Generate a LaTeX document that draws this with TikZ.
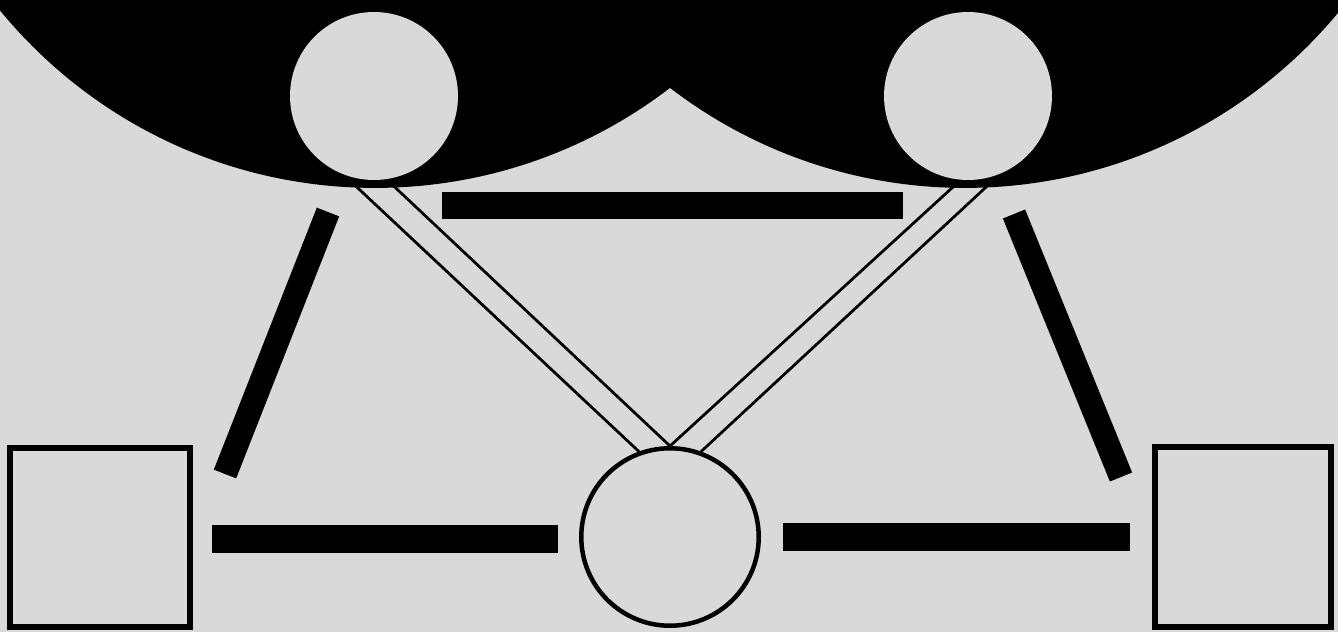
\documentclass[tikz,border=0pt]{standalone}
\definecolor{paper}{gray}{0.85}
\begin{document}
\begin{tikzpicture}[
        x=0.02cm, y=-0.02cm,
        disc/.style={circle, fill=paper, inner sep=0pt, minimum size=3.36cm},
        box/.style={draw, line width=0.12cm, fill=paper, inner sep=0pt, minimum width=3.6cm, minimum height=3.6cm},
        bar/.style={line width=0.55cm},
        slant/.style={line width=0.48cm},
        strip/.style={line width=0.055cm},
        ]
        % Paper
        \fill[paper] (0,0) rectangle (1338,632);
        \useasboundingbox (0,0) rectangle (1338,632);

        % Hub and the two strips
        \node[disc, draw, line width=0.09cm, minimum size=3.55cm] (hub) at (670,537) {};
        \coordinate (sL1) at (345,176);
        \coordinate (sL2) at (383,176);
        \coordinate (sR1) at (965,176);
        \coordinate (sR2) at (998,176);
        \draw[strip] (hub.110) -- (sL1);
        \draw[strip] (hub.north) -- (sL2);
        \draw[strip] (hub.north) -- (sR1);
        \draw[strip] (hub.70) -- (sR2);

        % Black cap
        \begin{scope}
            \clip (0,0) rectangle (1338,632);
            \fill[black] (375,-297) circle (9.7cm);
            \fill[black] (965,-297) circle (9.7cm);
        \end{scope}

        % Upper discs
        \node[disc] (topL) at (374,96) {};
        \node[disc] (topR) at (968,96) {};

        % Squares
        \node[box] (boxL) at (100,537.5) {};
        \node[box, minimum width=3.52cm] (boxR) at (1243,537) {};

        % Bars
        \coordinate (bT1) at (442,205.5);
        \coordinate (bT2) at (903,205.5);
        \coordinate (bL1) at (212,539);
        \coordinate (bL2) at (558,539);
        \coordinate (bR1) at (783,537);
        \coordinate (bR2) at (1130,537);
        \coordinate (kL1) at (328,212);
        \coordinate (kL2) at (225,474);
        \coordinate (kR1) at (1014,214);
        \coordinate (kR2) at (1121,477);
        \draw[bar] (bT1) -- (bT2);
        \draw[bar] (bL1) -- (bL2);
        \draw[bar] (bR1) -- (bR2);
        \draw[slant] (kL1) -- (kL2);
        \draw[slant] (kR1) -- (kR2);

    \end{tikzpicture}
\end{document}
